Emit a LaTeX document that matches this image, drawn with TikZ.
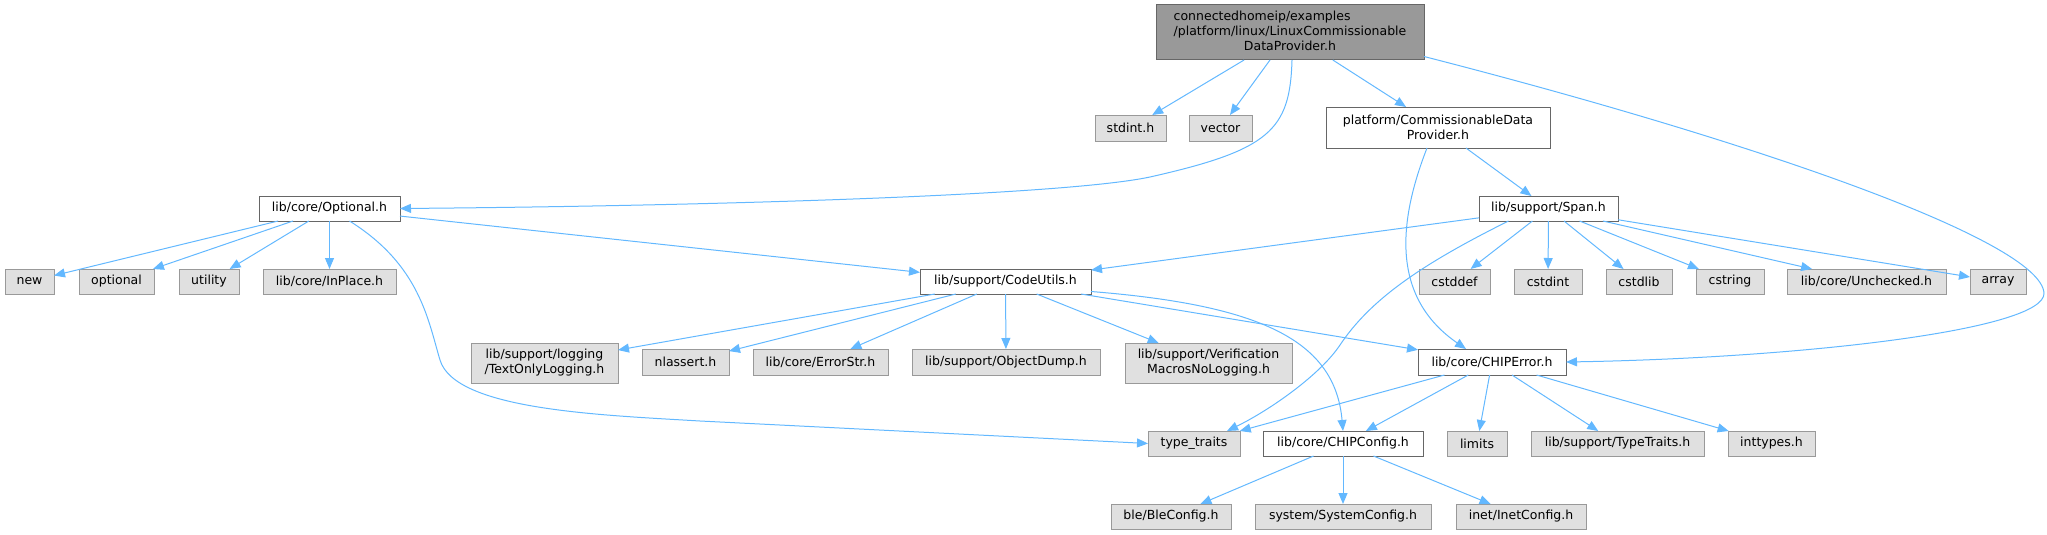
\documentclass[tikz,border=0pt]{standalone}
\usepackage{fontspec}
\setmainfont{DejaVu Sans}
\usepackage{tikz}
\usetikzlibrary{positioning,arrows.meta}
\usepackage{xcolor}
\definecolor{edgeBlue}{HTML}{63B8FF}
\definecolor{extFill}{HTML}{E0E0E0}
\definecolor{extLine}{HTML}{999999}
\definecolor{fileLine}{HTML}{666666}

\begin{document}
\begin{tikzpicture}[
    x=1pt, y=-1pt,
    font=\fontsize{12.5}{15}\selectfont,
    baseBox/.style={rectangle, inner sep=0pt, outer sep=0pt, line width=1pt, minimum height=25pt, align=center},
    extBox/.style={baseBox, draw=extLine, fill=extFill},
    fileBox/.style={baseBox, draw=fileLine, fill=white},
    rootBox/.style={baseBox, draw=fileLine, fill=extLine},
    incEdge/.style={draw=edgeBlue, line width=1pt, -{Triangle[length=11pt,width=9pt]}}
]
    \useasboundingbox (0,0) rectangle (2047,535);

    % top rows
    \node[rootBox, minimum width=268pt, minimum height=55pt] (root) at (1290,32.5) {%
        \begin{tabular}{@{}l@{}}connectedhomeip/examples\\/platform/linux/LinuxCommissionable\\\multicolumn{1}{@{}c@{}}{DataProvider.h}\end{tabular}};
    \node[extBox, minimum width=71pt, minimum height=26pt] (stdint) at (1130.5,128) {stdint.h};
    \node[extBox, minimum width=63pt, minimum height=26pt] (vector) at (1220.5,128) {vector};
    \node[fileBox, minimum width=224pt, minimum height=41pt] (cdp) at (1438,127.5) {platform/CommissionableData\\Provider.h};
    \node[fileBox, minimum width=141pt] (optional) at (329.5,208.5) {lib/core/Optional.h};
    \node[fileBox, minimum width=139pt] (span) at (1548.5,208.5) {lib/support/Span.h};

    % third row
    \node[extBox, minimum width=49pt] (new) at (29.5,281.5) {new};
    \node[extBox, minimum width=75pt] (stdOptional) at (116.5,281.5) {optional};
    \node[extBox, minimum width=60pt] (utility) at (209,281.5) {utility};
    \node[extBox, minimum width=133pt] (inPlace) at (329.5,281.5) {lib/core/InPlace.h};
    \node[fileBox, minimum width=171pt] (codeUtils) at (1005.5,281.5) {lib/support/CodeUtils.h};
    \node[extBox, minimum width=71pt] (cstddef) at (1454.5,281.5) {cstddef};
    \node[extBox, minimum width=68pt] (cstdint) at (1548,281.5) {cstdint};
    \node[extBox, minimum width=66pt] (cstdlib) at (1639,281.5) {cstdlib};
    \node[extBox, minimum width=68pt] (cstring) at (1730,281.5) {cstring};
    \node[extBox, minimum width=159pt] (unchecked) at (1866.5,281.5) {lib/core/Unchecked.h};
    \node[extBox, minimum width=56pt] (array) at (1998,281.5) {array};

    % fourth row
    \node[extBox, minimum width=147pt, minimum height=40pt] (textLog) at (544.5,363) {lib/support/logging\\/TextOnlyLogging.h};
    \node[extBox, minimum width=87pt, minimum height=26pt] (nlassert) at (685.5,362) {nlassert.h};
    \node[extBox, minimum width=135pt, minimum height=26pt] (errorStr) at (820.5,362) {lib/core/ErrorStr.h};
    \node[extBox, minimum width=188pt, minimum height=26pt] (objDump) at (1006,362) {lib/support/ObjectDump.h};
    \node[extBox, minimum width=167pt, minimum height=40pt] (verifyMacros) at (1208.5,363) {lib/support/Verification\\MacrosNoLogging.h};
    \node[fileBox, minimum width=148pt, minimum height=26pt] (chipError) at (1492,362) {lib/core/CHIPError.h};

    % fifth row
    \node[extBox, minimum width=92pt] (typeTraits) at (1194,443.5) {type\_traits};
    \node[fileBox, minimum width=160pt] (chipConfig) at (1343,443.5) {lib/core/CHIPConfig.h};
    \node[extBox, minimum width=60pt] (limits) at (1477,443.5) {limits};
    \node[extBox, minimum width=173pt] (supTypeTraits) at (1617.5,443.5) {lib/support/TypeTraits.h};
    \node[extBox, minimum width=87pt] (inttypes) at (1771.5,443.5) {inttypes.h};

    % bottom row
    \node[extBox, minimum width=120pt] (bleConfig) at (1171,516.5) {ble/BleConfig.h};
    \node[extBox, minimum width=176pt] (sysConfig) at (1343,516.5) {system/SystemConfig.h};
    \node[extBox, minimum width=130pt] (inetConfig) at (1521,516.5) {inet/InetConfig.h};

    % root includes
    \draw[incEdge] (root) -- (stdint);
    \draw[incEdge] (root) -- (vector);
    \draw[incEdge] (root) -- (cdp);
    \draw[incEdge] ([xshift=2pt]root.south) .. controls (1290,130) and (1270,150) .. (1150,177)
        .. controls (1060,196) and (700,206) .. (optional.east);
    \draw[incEdge] ([yshift=-24pt]root.east) .. controls (1750,140) and (2040,240) .. (2044,293)
        .. controls (2046,330) and (1800,358) .. (chipError.east);

    % Optional.h
    \foreach \dst in {new,stdOptional,utility,inPlace,codeUtils}
        \draw[incEdge] (optional) -- (\dst);
    \draw[incEdge] ([xshift=20pt]optional.south) .. controls (420,265) and (428,320) .. (440,360)
        .. controls (455,410) and (600,415) .. (700,421) -- (typeTraits.west);

    % CommissionableDataProvider.h
    \draw[incEdge] (cdp) -- (span);
    \draw[incEdge] ([xshift=-11pt]cdp.south) .. controls (1395,230) and (1395,300) .. ([xshift=-26pt]chipError.north);

    % Span.h
    \foreach \dst in {codeUtils,cstddef,cstdint,cstdlib,cstring,unchecked,array}
        \draw[incEdge] (span) -- (\dst);
    \draw[incEdge] ([xshift=-40pt]span.south) .. controls (1420,265) and (1370,300) .. (1340,345)
        .. controls (1320,375) and (1270,410) .. ([xshift=-13pt]typeTraits.north east);

    % CodeUtils.h
    \foreach \dst in {textLog,nlassert,errorStr,objDump,verifyMacros,chipError}
        \draw[incEdge] (codeUtils) -- (\dst);
    \draw[incEdge] ([yshift=-10pt]codeUtils.east) .. controls (1260,305) and (1335,340) .. (chipConfig.north);

    % CHIPError.h
    \foreach \dst in {typeTraits,chipConfig,limits,supTypeTraits,inttypes}
        \draw[incEdge] (chipError) -- (\dst);

    % CHIPConfig.h
    \foreach \dst in {bleConfig,sysConfig,inetConfig}
        \draw[incEdge] (chipConfig) -- (\dst);
\end{tikzpicture}
\end{document}
